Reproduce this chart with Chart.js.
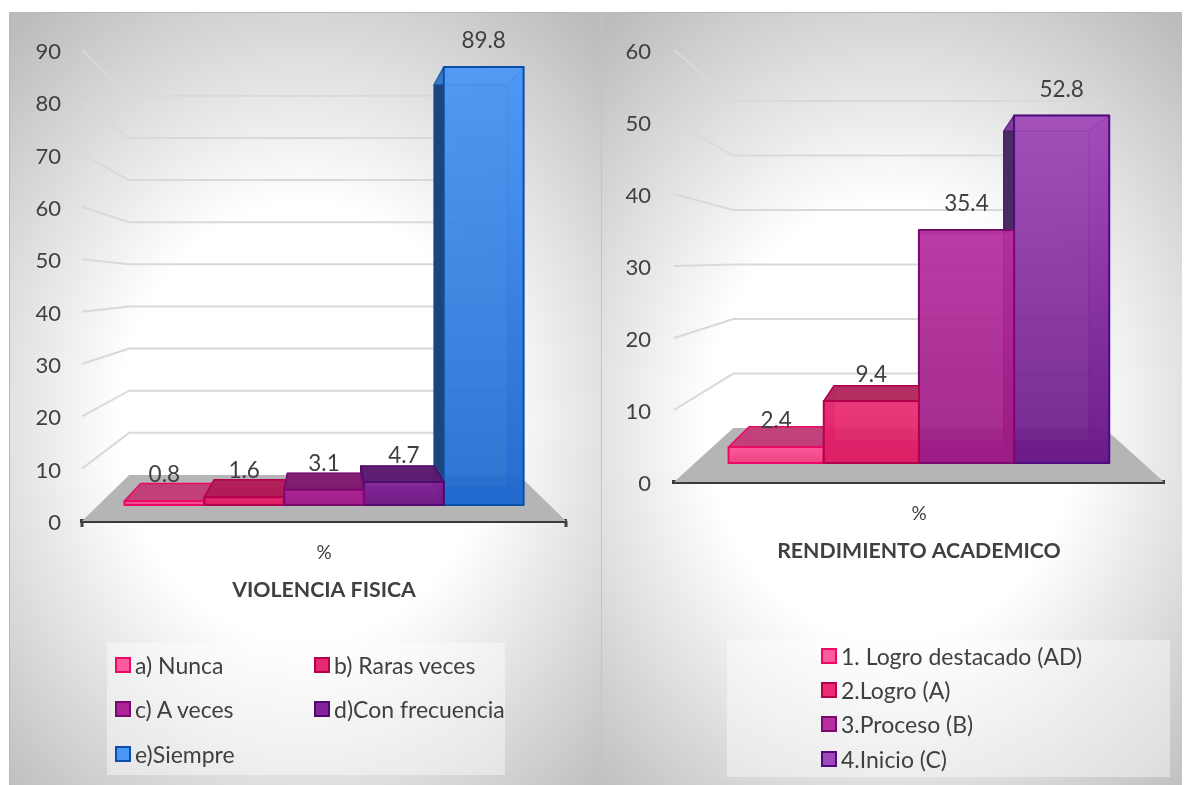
<!DOCTYPE html>
<html>
<head>
<meta charset="utf-8">
<title>Violencia fisica y rendimiento academico</title>
<script src="https://cdn.jsdelivr.net/npm/chart.js@4"></script>
<style>
  html, body { margin: 0; padding: 0; background: #fff; width: 1187px; height: 785px; overflow: hidden; }
  .panel { position: absolute; top: 12px; height: 773px; background: radial-gradient(ellipse 440px 520px at 50% 53%, #fff 42%, #bcbcbc 100%); box-shadow: inset 0 1px 0 #b8b8b8; }
  #panelLeft  { left: 9px; width: 592px; box-shadow: inset 1px 1px 0 #b8b8b8; }
  #panelRight { left: 601px; width: 581px; border-left: 1px solid #c4c4c4; box-sizing: border-box; }
  .panel canvas { position: absolute; left: 0; top: 0; }
  .legendBox { position: absolute; background: rgba(255,255,255,.42); font-family: Lato, sans-serif; font-size: 23px; color: #404040; }
  .legendItem { position: absolute; white-space: nowrap; display: flex; align-items: center; height: 24px; }
  .legendItem i { display: inline-block; width: 12px; height: 12px; border: 2px solid; margin-right: 4px; }
</style>
</head>
<body>
<div class="panel" id="panelLeft"><canvas id="chartLeft"></canvas><div class="legendBox" id="legendLeft"></div></div>
<div class="panel" id="panelRight"><canvas id="chartRight"></canvas><div class="legendBox" id="legendRight"></div></div>
<script>
// ----- Data -----
const violenciaLabels = ['a) Nunca', 'b) Raras veces', 'c) A veces', 'd)Con frecuencia', 'e)Siempre'];
const violenciaValues = [0.8, 1.6, 3.1, 4.7, 89.8];
const rendimientoLabels = ['1. Logro destacado (AD)', '2.Logro (A)', '3.Proceso (B)', '4.Inicio (C)'];
const rendimientoValues = [2.4, 9.4, 35.4, 52.8];
const xLabel = ['%'];

// ----- Colours: [front top, front bottom, edge, top face, side face] -----
const violenciaColors = [
  ['#fb5a9c', '#f2417f', '#ea0a66', '#c03e78', '#d0306e'],
  ['#e8286f', '#dd1c64', '#b3004f', '#b01c56', '#a01048'],
  ['#ad2296', '#9f1a87', '#7a0a6e', '#7e1b6e', '#6e0a60'],
  ['#84239a', '#701a85', '#4f0a6e', '#5a1a70', '#3e1460'],
  ['#4a97f5', '#1f68ce', '#0b4fa8', '#4a97f5', '#1a3f72'],
];
const rendimientoColors = [
  ['#fb5a9c', '#f2417f', '#ea0a66', '#c03e78', '#d0306e'],
  ['#ea2a72', '#dd1c64', '#b3004f', '#b02a5e', '#a01048'],
  ['#b62ea0', '#9c1a84', '#7a0a6e', '#8e1a7c', '#8a0a7c'],
  ['#a048b8', '#6a1888', '#4f0a80', '#a048b8', '#46285c'],
];

function rgba(hex, a) {
  const n = parseInt(hex.slice(1), 16);
  return `rgba(${n >> 16},${(n >> 8) & 255},${n & 255},${a})`;
}

// Draws the fake 3D box look, everything comes from the Chart.js scales
const box3d = {
  id: 'box3d',
  beforeDatasetsDraw(chart, args, o) {
    const { ctx, chartArea: a } = chart;
    const yScale = chart.scales.y;
    const project = (x, y, k) => [o.vx + (x - o.vx) * k, o.vy + (y - o.vy) * k];
    const poly = (pts) => {
      ctx.beginPath();
      pts.forEach((p, i) => i ? ctx.lineTo(p[0], p[1]) : ctx.moveTo(p[0], p[1]));
      ctx.closePath();
    };
    ctx.save();
    // floor
    poly([[a.left, a.bottom], [a.right, a.bottom], project(a.right, a.bottom, o.kBack), project(a.left, a.bottom, o.kBack)]);
    ctx.fillStyle = '#b5b5b5';
    ctx.fill();
    // walls
    ctx.strokeStyle = '#d9d9d9';
    ctx.lineWidth = 2;
    yScale.ticks.forEach(t => {
      if (t.value === 0) return;
      const y = yScale.getPixelForValue(t.value);
      const b1 = project(a.left, y, o.kBack), b2 = project(a.right, y, o.kBack);
      ctx.beginPath();
      ctx.moveTo(a.left, y);
      ctx.lineTo(b1[0], b1[1]);
      ctx.lineTo(b2[0], b2[1]);
      ctx.stroke();
    });
    // bars, outside ones first so the middle ones sit on top
    const order = chart.data.datasets.map((d, i) => i).sort((i, j) => {
      const di = Math.abs(chart.getDatasetMeta(i).data[0].x - o.vx);
      const dj = Math.abs(chart.getDatasetMeta(j).data[0].x - o.vx);
      return dj - di;
    });
    order.forEach(i => {
      const bar = chart.getDatasetMeta(i).data[0];
      const [c1, c2, edge, topFace, sideFace] = o.colors[i];
      const l = bar.x - bar.width / 2, r = bar.x + bar.width / 2;
      const nTL = project(l, bar.y, o.kNear), nTR = project(r, bar.y, o.kNear);
      const nBL = project(l, bar.base, o.kNear), nBR = project(r, bar.base, o.kNear);
      const fTL = project(l, bar.y, o.kFar), fTR = project(r, bar.y, o.kFar);
      const fBL = project(l, bar.base, o.kFar), fBR = project(r, bar.base, o.kFar);
      ctx.lineJoin = 'round';
      const face = (pts, fill, lw, line) => {
        poly(pts);
        ctx.fillStyle = fill;
        ctx.fill();
        ctx.strokeStyle = line || edge;
        ctx.lineWidth = lw;
        ctx.stroke();
      };
      const soft = rgba(edge, .45);
      const g = ctx.createLinearGradient(0, nTL[1], 0, nBL[1]);
      g.addColorStop(0, rgba(c1, .85));
      g.addColorStop(1, rgba(c2, .85));
      // back, bottom, then the side turned to us and the outer side behind the front
      face([fTL, fTR, fBR, fBL], rgba(c2, .5), 1, soft);
      face([fBL, fBR, nBR, nBL], rgba(c2, .85), 1, soft);
      const inner = l > o.vx ? [fTL, nTL, nBL, fBL] : [fTR, nTR, nBR, fBR];
      const outer = l > o.vx ? [fTR, nTR, nBR, fBR] : [fTL, nTL, nBL, fBL];
      face(outer, g, 1, soft);
      face(inner, rgba(sideFace, .95), 1);
      face([fTL, fTR, nTR, nTL], bar.y < o.vy ? rgba(topFace, .6) : rgba(topFace, .95), 1.5, bar.y < o.vy ? soft : edge);
      face([nTL, nTR, nBR, nBL], g, 2);
    });
    ctx.restore();
  },
  afterDatasetsDraw(chart, args, o) {
    const { ctx, chartArea: a } = chart;
    ctx.save();
    // value labels sit just over the front top edge
    ctx.font = o.labelFont;
    ctx.fillStyle = '#404040';
    ctx.textAlign = 'center';
    ctx.textBaseline = 'middle';
    chart.data.datasets.forEach((d, i) => {
      const bar = chart.getDatasetMeta(i).data[0];
      const x = o.vx + (bar.x - o.vx) * o.kNear;
      const y = o.vy + (bar.y - o.vy) * o.kNear;
      ctx.fillText(d.data[0], x, y - o.labelGap);
    });
    // end ticks on the axis line
    if (o.endTicks) {
      ctx.strokeStyle = '#404040';
      ctx.lineWidth = 3;
      [a.left, a.right].forEach(x => {
        ctx.beginPath();
        ctx.moveTo(x, a.bottom);
        ctx.lineTo(x, a.bottom + 6);
        ctx.stroke();
      });
    }
    ctx.restore();
  },
};

function makeChart(id, w, h, labels, values, colors, cfg) {
  const canvas = document.getElementById(id);
  canvas.style.width = w + 'px';
  canvas.style.height = h + 'px';
  canvas.width = w;
  canvas.height = h;
  return new Chart(canvas.getContext('2d'), {
    type: 'bar',
    data: {
      labels: xLabel,
      datasets: labels.map((name, i) => ({
        label: name,
        data: [values[i]],
        backgroundColor: 'transparent',
        categoryPercentage: cfg.groupWidth,
        barPercentage: 1,
      })),
    },
    plugins: [box3d],
    options: {
      responsive: false,
      animation: false,
      devicePixelRatio: 1,
      layout: { padding: { top: cfg.top, right: cfg.right, bottom: h - cfg.bottom - 82, left: 0 } },
      plugins: {
        legend: { display: false },
        tooltip: { enabled: false },
        box3d: { ...cfg.depth, colors, labelFont: '22.5px Lato', labelGap: 26, endTicks: cfg.endTicks },
      },
      scales: {
        x: {
          afterFit: s => { s.height = 82; },
          grid: { display: false },
          border: { color: '#3a3a3a', width: 4 },
          ticks: { color: '#404040', font: { family: 'Lato', size: 19 }, padding: 12 },
          title: { display: true, text: cfg.title, color: '#404040', font: { family: 'Lato', size: 21.3, weight: 'bold' }, padding: 0 },
        },
        y: {
          min: 0,
          max: cfg.max,
          afterFit: s => { s.width = cfg.left; },
          grid: { display: false },
          border: { display: false },
          ticks: { stepSize: 10, color: '#404040', font: { family: 'Lato', size: 22 }, padding: cfg.tickGap, labelOffset: 2 },
        },
      },
    },
  });
}

function buildLegend(id, box, items, colors) {
  const el = document.getElementById(id);
  Object.assign(el.style, { left: box.x + 'px', top: box.y + 'px', width: box.w + 'px', height: box.h + 'px' });
  items.forEach((name, i) => {
    const row = document.createElement('div');
    row.className = 'legendItem';
    row.style.left = box.pos[i][0] + 'px';
    row.style.top = box.pos[i][1] + 'px';
    const sw = document.createElement('i');
    sw.style.background = colors[i][0];
    sw.style.borderColor = colors[i][2];
    row.appendChild(sw);
    row.appendChild(document.createTextNode(name));
    el.appendChild(row);
  });
}

makeChart('chartLeft', 592, 773, violenciaLabels, violenciaValues, violenciaColors, {
  title: 'VIOLENCIA FISICA', max: 90, left: 73, right: 35, top: 38, bottom: 509, groupWidth: 0.885, endTicks: true, tickGap: 13,
  depth: { vx: 315, vy: 273, kNear: 0.932, kFar: 0.856, kBack: 0.805 },
});
makeChart('chartRight', 581, 773, rendimientoLabels, rendimientoValues, rendimientoColors, {
  title: 'RENDIMIENTO ACADEMICO', max: 60, left: 72, right: 19, top: 38, bottom: 470, groupWidth: 0.85, endTicks: false, tickGap: 15,
  depth: { vx: 316, vy: 248, kNear: 0.914, kFar: 0.815, kBack: 0.757 },
});
buildLegend('legendLeft', { x: 98, y: 631, w: 398, h: 132, pos: [[8, 10], [207, 10], [8, 54], [207, 54], [8, 99]] }, violenciaLabels, violenciaColors);
buildLegend('legendRight', { x: 125, y: 628, w: 443, h: 137, pos: [[94, 4], [94, 38], [94, 72], [94, 107]] }, rendimientoLabels, rendimientoColors);
</script>
</body>
</html>
